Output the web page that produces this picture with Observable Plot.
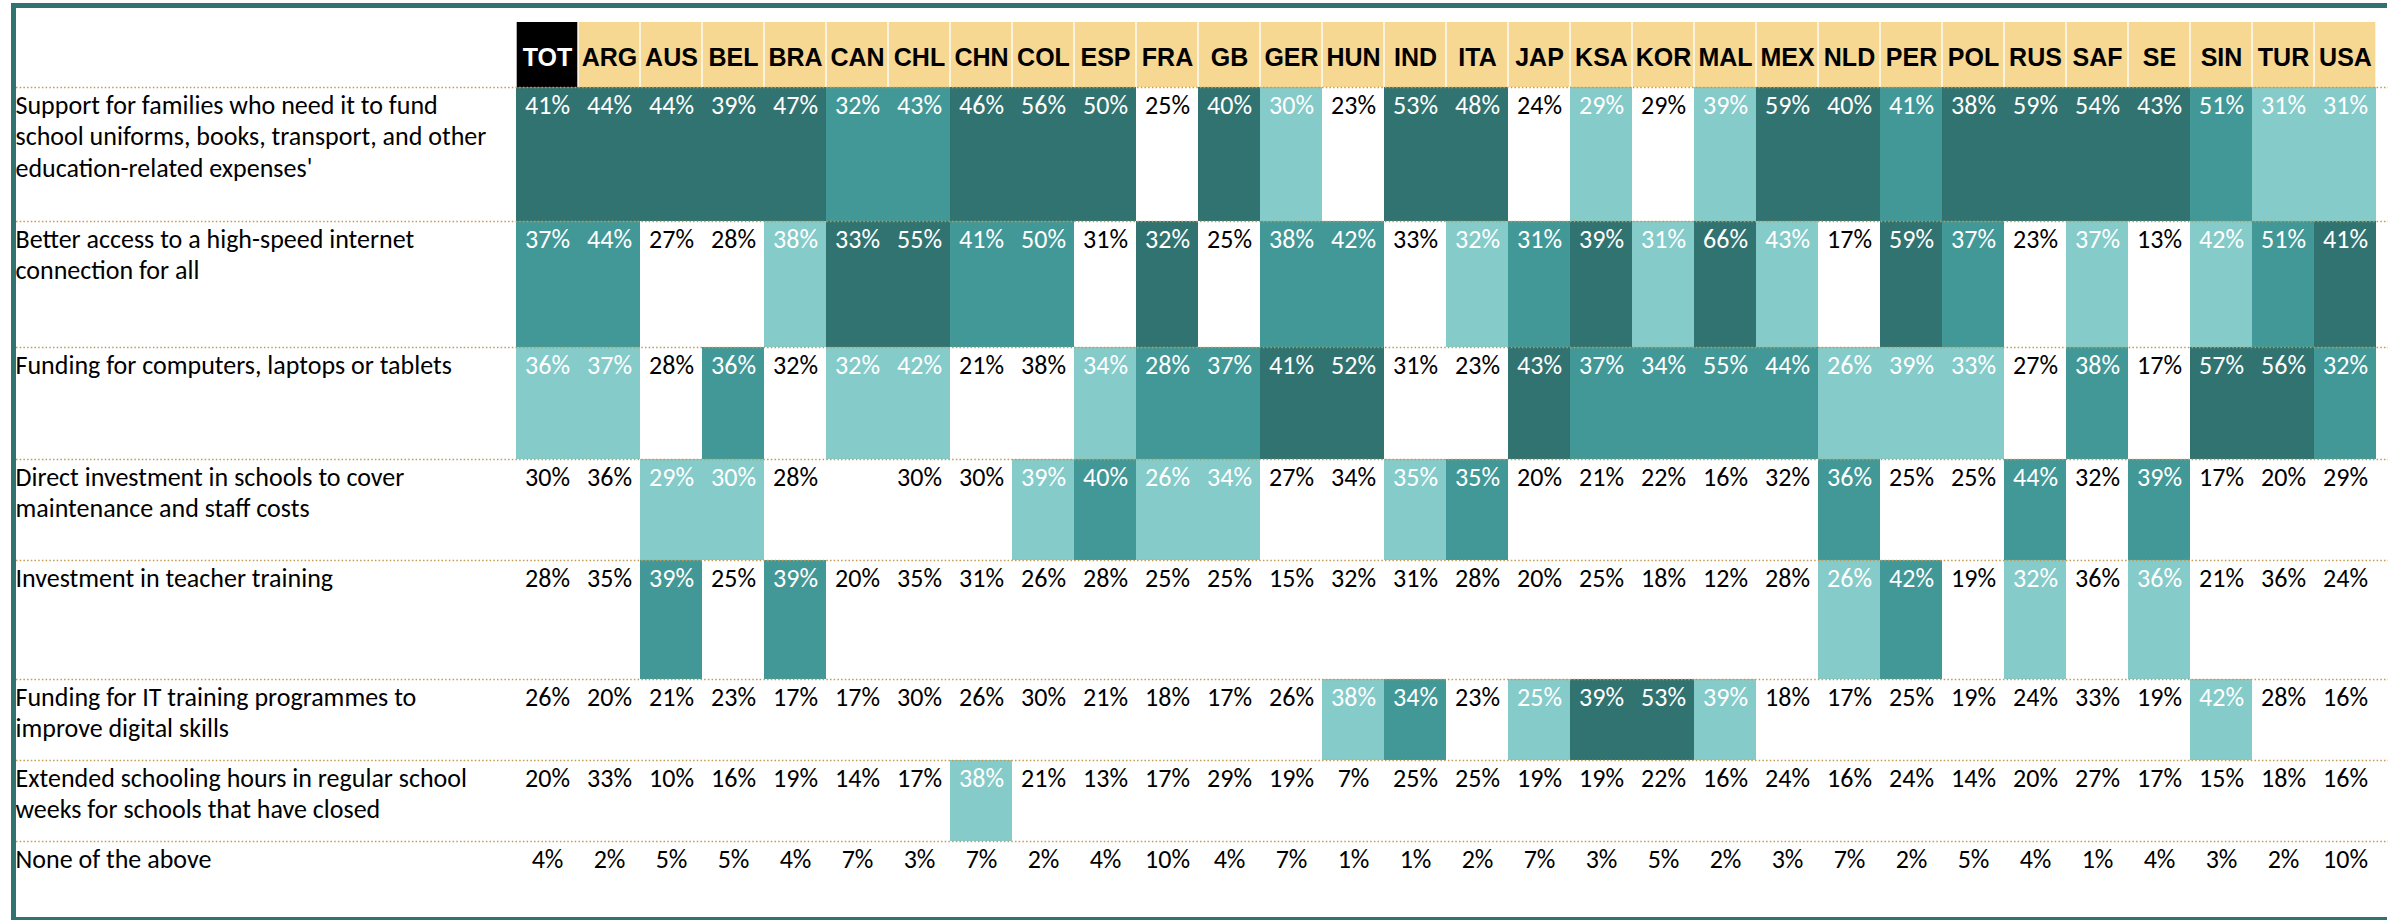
<!DOCTYPE html>
<html><head><meta charset="utf-8">
<script src="https://cdn.jsdelivr.net/npm/d3@7"></script>
<script src="https://cdn.jsdelivr.net/npm/@observablehq/plot@0.6"></script>
<style>
html,body{margin:0;padding:0;background:#fff;}
#wrap{position:relative;width:2402px;height:920px;overflow:hidden;background:#fff;}
#chart{position:absolute;left:0;top:0;}
#frame{position:absolute;left:11px;top:3px;width:2371px;height:909px;border-top:5px solid #317370;border-left:5px solid #317370;border-bottom:3px solid #317370;pointer-events:none;}
</style></head>
<body>
<div id="wrap"><div id="chart"></div><div id="frame"></div></div>
<script>
// ---- data ----
const countries = ["TOT","ARG","AUS","BEL","BRA","CAN","CHL","CHN","COL","ESP","FRA","GB","GER","HUN","IND","ITA","JAP","KSA","KOR","MAL","MEX","NLD","PER","POL","RUS","SAF","SE","SIN","TUR","USA"];

const answers = [
  "Support for families who need it to fund\nschool uniforms, books, transport, and other\neducation-related expenses'",
  "Better access to a high-speed internet\nconnection for all",
  "Funding for computers, laptops or tablets",
  "Direct investment in schools to cover\nmaintenance and staff costs",
  "Investment in teacher training",
  "Funding for IT training programmes to\nimprove digital skills",
  "Extended schooling hours in regular school\nweeks for schools that have closed",
  "None of the above"
];

const supportFamilies = [41,44,44,39,47,32,43,46,56,50,25,40,30,23,53,48,24,29,29,39,59,40,41,38,59,54,43,51,31,31];
const internetAccess  = [37,44,27,28,38,33,55,41,50,31,32,25,38,42,33,32,31,39,31,66,43,17,59,37,23,37,13,42,51,41];
const devicesFunding  = [36,37,28,36,32,32,42,21,38,34,28,37,41,52,31,23,43,37,34,55,44,26,39,33,27,38,17,57,56,32];
const schoolInvest    = [30,36,29,30,28,null,30,30,39,40,26,34,27,34,35,35,20,21,22,16,32,36,25,25,44,32,39,17,20,29];
const teacherTraining = [28,35,39,25,39,20,35,31,26,28,25,25,15,32,31,28,20,25,18,12,28,26,42,19,32,36,36,21,36,24];
const itTraining      = [26,20,21,23,17,17,30,26,30,21,18,17,26,38,34,23,25,39,53,39,18,17,25,19,24,33,19,42,28,16];
const extendedHours   = [20,33,10,16,19,14,17,38,21,13,17,29,19,7,25,25,19,19,22,16,24,16,24,14,20,27,17,15,18,16];
const noneOfAbove     = [4,2,5,5,4,7,3,7,2,4,10,4,7,1,1,2,7,3,5,2,3,7,2,5,4,1,4,3,2,10];

// rank within each country as highlighted in the source (1 = top, 2 = second, 3 = third, 0 = not highlighted)
const rankSupport   = [1,1,1,1,1,2,2,1,1,1,0,1,3,0,1,1,0,3,0,3,1,1,2,1,1,1,1,2,3,3];
const rankInternet  = [2,2,0,0,3,1,1,2,2,0,1,0,2,2,0,3,2,1,3,1,3,0,1,2,0,3,0,3,2,1];
const rankDevices   = [3,3,0,2,0,3,3,0,0,3,2,2,1,1,0,0,1,2,2,2,2,3,3,3,0,2,0,1,1,2];
const rankSchools   = [0,0,3,3,0,0,0,0,3,2,3,3,0,0,3,2,0,0,0,0,0,2,0,0,2,0,2,0,0,0];
const rankTeacher   = [0,0,2,0,2,0,0,0,0,0,0,0,0,0,0,0,0,0,0,0,0,3,2,0,3,0,3,0,0,0];
const rankIT        = [0,0,0,0,0,0,0,0,0,0,0,0,0,3,2,0,3,1,1,3,0,0,0,0,0,0,0,3,0,0];
const rankExtended  = [0,0,0,0,0,0,0,3,0,0,0,0,0,0,0,0,0,0,0,0,0,0,0,0,0,0,0,0,0,0];
const rankNone      = [0,0,0,0,0,0,0,0,0,0,0,0,0,0,0,0,0,0,0,0,0,0,0,0,0,0,0,0,0,0];

// ---- layout / style ----
const headerTop = 22, headerHeight = 65, headerBaseline = 43;
const rowHeights = [134,126,112,101,119,81,81,77];
const textBaseline = 26, lineSpacing = 31.7;
const shade = ["#ffffff", "#317370", "#429897", "#85cbc9"];
const gold = "#f6d892";
const bodyFont = "Calibri, Carlito, 'Open Sans', sans-serif";
const headFont = "Arial, 'Liberation Sans', sans-serif";
const bodySize = 26;

const valueRows = [supportFamilies, internetAccess, devicesFunding, schoolInvest, teacherTraining, itTraining, extendedHours, noneOfAbove];
const rankRows = [rankSupport, rankInternet, rankDevices, rankSchools, rankTeacher, rankIT, rankExtended, rankNone];

const rowTop = [];
let acc = headerTop + headerHeight;
for (const h of rowHeights) { rowTop.push(acc); acc += h; }
const rowBottom = rowTop.map((t, i) => t + rowHeights[i]);

const cells = [];
valueRows.forEach((vals, i) => vals.forEach((v, j) => cells.push({
  row: i, country: countries[j], value: v, rank: rankRows[i][j]
})));

const labelLines = [];
answers.forEach((a, i) => a.split("\n").forEach((t, k) => labelLines.push({row: i, line: k, text: t})));

const chart = Plot.plot({
  width: 2402, height: 920,
  marginTop: 0, marginBottom: 0, marginLeft: 16, marginRight: 14,
  x: {type: "band", domain: countries, range: [504, 2388], padding: 0, axis: null},
  y: {type: "linear", domain: [0, 920], range: [0, 920], axis: null},
  color: {type: "identity"},
  style: {fontFamily: bodyFont, background: "transparent", overflow: "visible"},
  marks: [
    // header cells
    Plot.barY(countries, {
      x: d => d, y1: () => headerTop, y2: () => headerTop + headerHeight,
      fill: d => d === "TOT" ? "#000000" : gold, insetLeft: 0.7, insetRight: 0.7
    }),
    Plot.text(countries, {
      x: d => d, y: () => headerTop, dy: headerBaseline,
      text: d => d, fill: d => d === "TOT" ? "#ffffff" : "#000000",
      fontFamily: headFont, fontWeight: "bold", fontSize: 25, lineAnchor: "bottom"
    }),
    // data cells
    Plot.barY(cells.filter(d => d.rank > 0), {
      x: "country", y1: d => rowTop[d.row], y2: d => rowBottom[d.row],
      fill: d => shade[d.rank], shapeRendering: "crispEdges"
    }),
    // separators
    Plot.ruleY(rowTop, {stroke: "#c29a52", strokeWidth: 1.5, strokeDasharray: "1.5 2.2"}),
    // values
    Plot.text(cells.filter(d => d.value != null), {
      x: "country", y: d => rowTop[d.row], dy: textBaseline,
      text: d => d.value + "%", fill: d => d.rank > 0 ? "#ffffff" : "#000000",
      fontSize: bodySize, lineAnchor: "bottom", textAnchor: "middle"
    }),
    // row labels
    Plot.text(labelLines, {
      frameAnchor: "left", y: d => rowTop[d.row] + d.line * lineSpacing, dy: textBaseline, dx: -1,
      text: "text", fill: "#000000", fontSize: bodySize,
      lineAnchor: "bottom", textAnchor: "start"
    })
  ]
});
document.getElementById("chart").appendChild(chart);
</script>
</body></html>
